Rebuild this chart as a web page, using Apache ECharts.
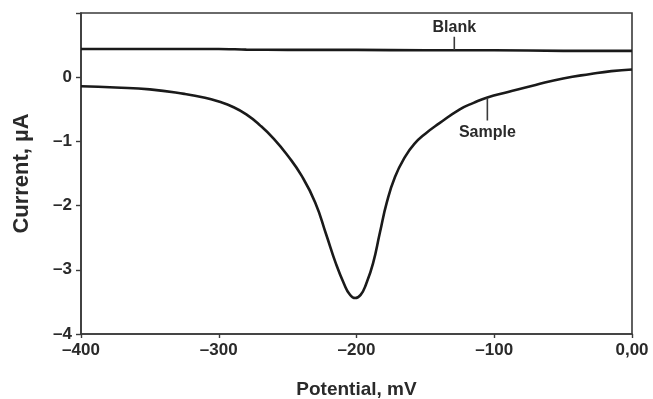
<!DOCTYPE html>
<html>
<head>
<meta charset="utf-8">
<script src="https://cdn.jsdelivr.net/npm/echarts@6/dist/echarts.min.js"></script>
<style>
  html, body { margin: 0; padding: 0; background: #fff; }
  #chart { width: 653px; height: 399px; }
</style>
</head>
<body>
<div id="chart"></div>
<script>
// Potential sweep (mV) and current (µA) for the sample voltammogram
const samplePotential = [-400, -375, -350, -325, -310, -300, -290, -280, -270, -260, -250, -240, -230, -222, -215, -209, -205, -201, -197, -193, -188, -183, -178, -172, -165, -158, -150, -140, -125, -115, -105, -90, -70, -50, -30, -15, 0];
const sampleCurrent   = [-0.14, -0.16, -0.19, -0.26, -0.32, -0.38, -0.46, -0.58, -0.75, -0.96, -1.22, -1.53, -1.95, -2.45, -2.90, -3.22, -3.38, -3.44, -3.39, -3.22, -2.90, -2.42, -1.95, -1.55, -1.25, -1.04, -0.88, -0.72, -0.50, -0.40, -0.315, -0.23, -0.12, -0.02, 0.05, 0.095, 0.12];

// Blank (supporting electrolyte only)
const blankPotential = [-400, -350, -300, -280, -250, -200, -150, -100, -50, 0];
const blankCurrent   = [0.44, 0.44, 0.44, 0.43, 0.425, 0.425, 0.42, 0.42, 0.41, 0.41];

// Callout leaders: potential, start current, end current
const blankTag  = { text: 'Blank',  potential: -129, from: 0.425, to: 0.63 };
const sampleTag = { text: 'Sample', potential: -105, from: -0.32, to: -0.675 };

const xTicks = [-400, -300, -200, -100, 0];
const yTicks = [-4, -3, -2, -1, 0, 1];

const FONT = '"Liberation Sans", Arial, Helvetica, sans-serif';
const INK = '#1a1a1a';
const AXIS = '#3a3a3a';
const TEXT = '#2a2a2a';

const pair = (xs, ys) => xs.map((x, i) => [x, ys[i]]);
const dash = v => (v < 0 ? '\u2013' + Math.abs(v) : String(v));

// Short vertical leader with its caption at the far end
function tagSeries(tag, below) {
  return {
    type: 'line',
    data: [[tag.potential, tag.from], [tag.potential, tag.to]],
    showSymbol: false,
    symbol: 'none',
    lineStyle: { color: AXIS, width: 1.6 },
    silent: true,
    z: 4,
    endLabel: {
      show: true,
      formatter: tag.text,
      fontFamily: FONT, fontWeight: 'bold', fontSize: 16, color: TEXT,
      align: 'center',
      verticalAlign: below ? 'top' : 'bottom',
      offset: below ? [0, 4] : [0, -1],
      distance: 0
    }
  };
}

const chart = echarts.init(document.getElementById('chart'), null, { renderer: 'canvas' });
chart.setOption({
  animation: false,
  backgroundColor: '#ffffff',
  grid: {
    left: 81, right: 21, top: 13, bottom: 65,
    containLabel: false,
    outerBoundsMode: 'none',
    show: true, borderColor: AXIS, borderWidth: 1.6
  },
  xAxis: {
    type: 'value',
    min: xTicks[0], max: xTicks[xTicks.length - 1], interval: 100,
    name: 'Potential, mV',
    nameLocation: 'middle',
    nameGap: 46,
    nameTextStyle: { fontFamily: FONT, fontWeight: 'bold', fontSize: 19, color: TEXT },
    axisLine: { show: true, onZero: false, lineStyle: { color: AXIS, width: 1.6 } },
    axisTick: { show: true, inside: false, length: 4, lineStyle: { color: AXIS, width: 1.4 } },
    axisLabel: {
      fontFamily: FONT, fontWeight: 'bold', fontSize: 17, color: TEXT, margin: 8,
      formatter: v => (v === 0 ? '0,00' : dash(v))
    },
    splitLine: { show: false }
  },
  yAxis: {
    type: 'value',
    min: yTicks[0], max: yTicks[yTicks.length - 1], interval: 1,
    name: 'Current, \u00b5A',
    nameLocation: 'middle',
    nameRotate: 90,
    nameGap: 48,
    nameTextStyle: { fontFamily: FONT, fontWeight: 'bold', fontSize: 22, color: TEXT },
    axisLine: { show: true, onZero: false, lineStyle: { color: AXIS, width: 1.6 } },
    axisTick: { show: true, inside: false, length: 5, lineStyle: { color: AXIS, width: 1.4 } },
    axisLabel: {
      fontFamily: FONT, fontWeight: 'bold', fontSize: 17, color: TEXT, margin: 9,
      formatter: v => (v === 1 ? '' : dash(v))
    },
    splitLine: { show: false }
  },
  series: [
    {
      name: 'Blank',
      type: 'line',
      data: pair(blankPotential, blankCurrent),
      showSymbol: false,
      smooth: 0.3,
      lineStyle: { color: INK, width: 2.6 },
      z: 3
    },
    {
      name: 'Sample',
      type: 'line',
      data: pair(samplePotential, sampleCurrent),
      showSymbol: false,
      smooth: 0.5,
      lineStyle: { color: INK, width: 2.6 },
      z: 3
    },
    tagSeries(blankTag, false),
    tagSeries(sampleTag, true)
  ]
});
</script>
</body>
</html>
